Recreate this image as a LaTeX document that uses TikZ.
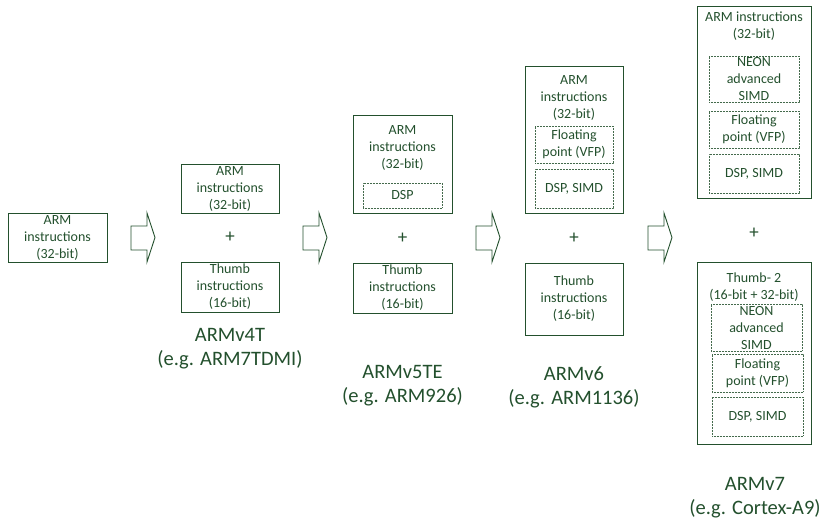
\documentclass[tikz,border=0pt]{standalone}
\usepackage{fontspec}
\setmainfont{Carlito}
\definecolor{armgreen}{RGB}{35,80,45}
\begin{document}
\begin{tikzpicture}[x=1pt,y=-1pt,
  every node/.style={text=armgreen},
  box/.style={draw=armgreen, line width=0.9pt, rectangle, inner sep=0pt, align=center,
              font=\fontsize{14}{17}\selectfont},
  sub/.style={draw=armgreen!85, line width=0.8pt, dash pattern=on 0.9pt off 0.6pt, rectangle,
              inner sep=0pt, align=center, font=\fontsize{14}{17}\selectfont},
  txt/.style={inner sep=0pt, align=center, font=\fontsize{14}{17}\selectfont},
  lbl/.style={inner sep=0pt, align=center, font=\fontsize{20.5}{24}\selectfont},
  plus/.style={inner sep=0pt, font=\fontsize{19}{19}\selectfont},
  blockarrow/.style={draw=armgreen, line width=0.9pt, line join=miter}]
\useasboundingbox (0,0) rectangle (822,520);

% stage 0
\node[box, minimum width=99pt, minimum height=49pt] (a0) at (57.5,237.5) {ARM\\instructions\\(32-bit)};

% ARMv4T
\node[box, minimum width=98pt, minimum height=49pt] (v4arm) at (230,188.5) {ARM\\instructions\\(32-bit)};
\node[plus] (v4plus) at (230,237) {+};
\node[box, minimum width=98pt, minimum height=50pt] (v4thumb) at (230,287) {Thumb\\instructions\\(16-bit)};
\node[lbl] (v4lbl) at (230,349) {ARMv4T\\(e.g. ARM7TDMI)};

% ARMv5TE
\node[box, minimum width=99pt, minimum height=98pt] (v5arm) at (402.5,164) {};
\node[txt] (v5armt) at (402.5,148) {ARM\\instructions\\(32-bit)};
\node[sub, minimum width=79pt, minimum height=25pt] (v5dsp) at (402.5,195.5) {DSP};
\node[plus] (v5plus) at (402.5,238) {+};
\node[box, minimum width=99pt, minimum height=50pt] (v5thumb) at (402.5,288) {Thumb\\instructions\\(16-bit)};
\node[lbl] (v5lbl) at (402.5,386) {ARMv5TE\\(e.g. ARM926)};

% ARMv6
\node[box, minimum width=98pt, minimum height=147pt] (v6arm) at (574,139.5) {};
\node[txt] (v6armt) at (574,98) {ARM\\instructions\\(32-bit)};
\node[sub, minimum width=78pt, minimum height=37pt] (v6fp) at (574,144.5) {Floating\\point (VFP)};
\node[sub, minimum width=78pt, minimum height=39pt] (v6dsp) at (574,188.5) {DSP, SIMD};
\node[plus] (v6plus) at (574,238) {+};
\node[box, minimum width=98pt, minimum height=72pt] (v6thumb) at (574,299) {Thumb\\instructions\\(16-bit)};
\node[lbl] (v6lbl) at (574,387) {ARMv6\\(e.g. ARM1136)};

% ARMv7
\node[box, minimum width=114pt, minimum height=192pt] (v7arm) at (754,102) {};
\node[txt] (v7armt) at (754,26.5) {ARM instructions\\(32-bit)};
\node[sub, minimum width=90pt, minimum height=46pt] (v7neon) at (754,79) {NEON\\advanced\\SIMD};
\node[sub, minimum width=90pt, minimum height=37pt] (v7fp) at (754,129.5) {Floating\\point (VFP)};
\node[sub, minimum width=90pt, minimum height=39pt] (v7dsp) at (754,173.5) {DSP, SIMD};
\node[plus] (v7plus) at (754,233) {+};
\node[box, minimum width=114pt, minimum height=182pt] (v7thumb) at (754,353) {};
\node[txt] (v7thumbt) at (754,287.5) {Thumb- 2\\(16-bit + 32-bit)};
\node[sub, minimum width=91pt, minimum height=47pt] (v7tneon) at (756.5,327.5) {NEON\\advanced\\SIMD};
\node[sub, minimum width=91pt, minimum height=38pt] (v7tfp) at (757.5,373) {Floating\\point (VFP)};
\node[sub, minimum width=91pt, minimum height=39pt] (v7tdsp) at (757.5,416.5) {DSP, SIMD};
\node[lbl] (v7lbl) at (755,498) {ARMv7\\(e.g. Cortex-A9)};

% block arrows between stages
\foreach \x in {131,303,476,648}
  \draw[blockarrow] (\x,226) -- (\x+16,226) -- (\x+16,213) -- (\x+24,237.5)
      -- (\x+16,262) -- (\x+16,250) -- (\x,250) -- cycle;
\end{tikzpicture}
\end{document}
